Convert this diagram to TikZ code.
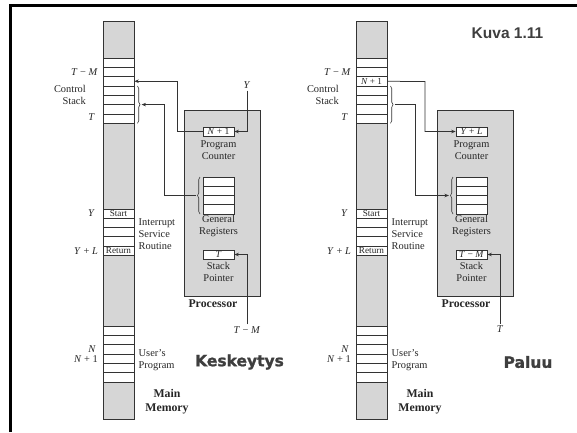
\documentclass[tikz,border=0pt]{standalone}
\usepackage{fontspec}
\setmainfont{Liberation Serif}
\newfontfamily\sansb{Liberation Sans}
\newfontfamily\heavy{DejaVu Sans}[BoldFeatures={FakeBold=1.3}]
\usetikzlibrary{arrows.meta,decorations.pathreplacing}
\definecolor{linec}{HTML}{333333}
\definecolor{txt}{HTML}{262626}
\definecolor{memgray}{HTML}{D6D6D6}
\definecolor{big}{HTML}{3E3E3E}
\tikzset{
  col/.style={draw=linec, fill=memgray, line width=0.7pt, minimum width=31pt, inner sep=0pt},
  cell/.style={draw=linec, fill=white, line width=0.6pt, minimum width=31pt, inner sep=0pt,
    text=txt, font=\fontsize{9.2}{9}\selectfont},
  reg/.style={draw=linec, fill=white, line width=0.7pt, minimum width=31pt, minimum height=9pt, inner sep=0pt,
    text=txt, font=\fontsize{9.6}{9}\selectfont},
  lbl/.style={text=txt, inner sep=0pt, font=\fontsize{10.4}{12}\selectfont},
  bold/.style={text=txt, inner sep=0pt, font=\bfseries\fontsize{11.8}{14}\selectfont},
  conn/.style={draw=linec, line width=0.75pt, -{Stealth[length=4.5pt,width=3.5pt]}},
  brc/.style={draw=linec, line width=0.6pt, decorate, decoration={brace, amplitude=2.5pt}},
  headline/.style={text=big, inner sep=0pt, font=\heavy\bfseries\fontsize{15.5}{16}\selectfont},
}
\begin{document}
\begin{tikzpicture}[x=1pt,y=-1pt]
\useasboundingbox (0,0) rectangle (577,432);
\draw[line width=2.6pt, black] (10.5,432) -- (10.5,5.5) -- (577,5.5);

\foreach \p/\dx in {L/0,R/253}{
\begin{scope}[xshift=\dx]
  % memory column
  \node[col, minimum height=398pt] (\p mem) at (118.5,220) {};
  \foreach \i in {0,...,6}
    \node[cell, minimum height=9.3pt] (\p s\i) at (118.5,{62.65+9.3*\i}) {};
  \foreach \i in {0,...,4}
    \node[cell, minimum height=9.2pt] (\p r\i) at (118.5,{213.6+9.2*\i}) {};
  \foreach \i in {0,...,5}
    \node[cell, minimum height=9.33pt] (\p u\i) at (118.5,{330.67+9.33*\i}) {};
  \node[cell, draw=none, fill=none] (\p start) at (\p r0) {Start};
  \node[cell, draw=none, fill=none] (\p ret) at (\p r4) {Return};
  % left labels
  \node[lbl, anchor=east] (\p tm) at (98,72) {\textit{T} − \textit{M}};
  \node[lbl, anchor=east, align=right] (\p cs) at (86,95) {Control\\Stack};
  \node[lbl, anchor=east] (\p t) at (95,117.5) {\textit{T}};
  \node[lbl, anchor=east] (\p y) at (95,213) {\textit{Y}};
  \node[lbl, anchor=east] (\p yl) at (98,251) {\textit{Y} + \textit{L}};
  \node[lbl, anchor=east] (\p n) at (96,349) {\textit{N}};
  \node[lbl, anchor=east] (\p n1) at (98,359.5) {\textit{N} + 1};
  \node[lbl, anchor=west, align=left] (\p isr) at (138.5,234.5) {Interrupt\\Service\\Routine};
  \node[lbl, anchor=west, align=left] (\p up) at (138.5,360.5) {User's\\Program};
  \node[bold, align=center] (\p mm) at (167,402) {Main\\Memory};
  % stack brace
  \draw[brc] (137.5,86) -- (137.5,123.3);
  \coordinate (\p sb) at (141.5,104.6);
  % processor
  \node[draw=linec, fill=memgray, line width=0.7pt, minimum width=76pt, minimum height=186pt, inner sep=0pt]
    (\p proc) at (222,203) {};
  \node[bold] (\p proclbl) at (213,304) {Processor};
  \node[reg] (\p pc) at (218.5,131.5) {};
  \node[lbl, align=center] (\p pclbl) at (218.5,150) {Program\\Counter};
  \foreach \i in {0,...,3}
    \node[reg, minimum height=9.25pt] (\p g\i) at (218.5,{181.6+9.25*\i}) {};
  \draw[brc] (200,214) -- (200,177);
  \coordinate (\p gb) at (196,195.5);
  \node[lbl, align=center] (\p grlbl) at (218.5,226.5) {General\\Registers};
  \node[reg] (\p sp) at (218.5,254.5) {};
  \node[lbl, align=center] (\p splbl) at (218.5,272) {Stack\\Pointer};
\end{scope}
}

% ---- left panel (interrupt) ----
\node[reg, draw=none, fill=none] at (Lpc) {\textit{N} + 1};
\node[reg, draw=none, fill=none] at (Lsp) {\textit{T}};
\node[lbl] (Lylbl) at (247,85) {\textit{Y}};
\node[lbl] (Ltmlbl) at (247,330) {\textit{T} − \textit{M}};
\draw[conn] (Lpc.west) -- (177,131.5) |- (Ls2.east);
\draw[conn] (Lgb) -- (164,195.5) |- (Lsb);
\draw[conn] (Lylbl.south) ++(0,2) |- (Lpc.east);
\draw[conn] (Ltmlbl.north) ++(0,-2) |- (Lsp.east);
\node[headline] (kesk) at (239.5,362) {Keskeytys};

% ---- right panel (return) ----
\node[cell, draw=none, fill=none] at (Rs2) {\textit{N} + 1};
\node[reg, draw=none, fill=none] at (Rpc) {\textit{Y} + \textit{L}};
\node[reg, draw=none, fill=none] at (Rsp) {\textit{T} − \textit{M}};
\node[lbl] (Rtlbl) at (500,329.5) {\textit{T}};
\draw[conn] (Rs2.east) -- (425,81.6) |- (Rpc.west);
\draw[conn] (Rsb) -- (415,104.6) |- (Rgb);
\draw[conn] (Rtlbl.north) ++(0,-2) |- (Rsp.east);
\node[headline] (paluu) at (528,362) {Paluu};
\node[text=big, inner sep=0pt, font=\sansb\bfseries\fontsize{15.5}{16}\selectfont] (kuva) at (507.5,33) {Kuva 1.11};
\end{tikzpicture}
\end{document}
